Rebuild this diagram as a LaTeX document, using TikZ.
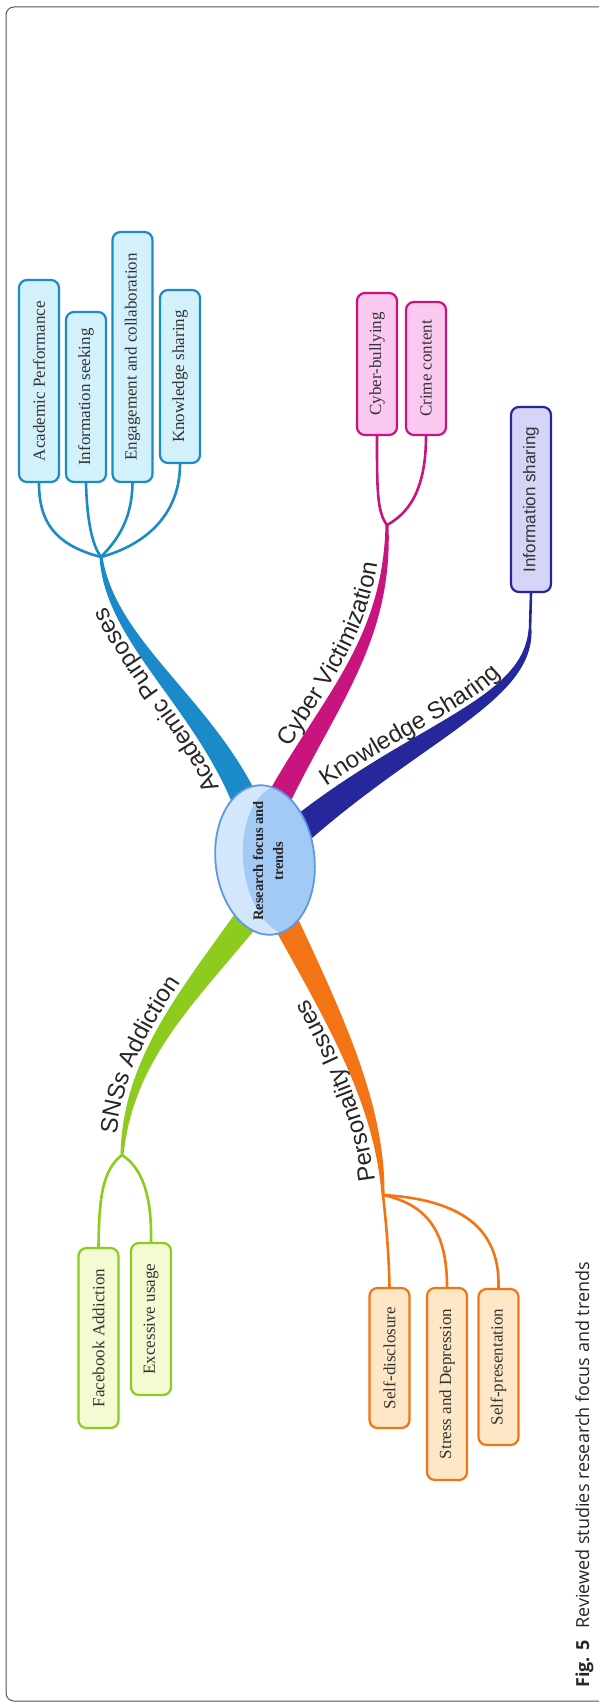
\documentclass[tikz,border=0pt]{standalone}
\usepackage{fontspec}
\setmainfont{Liberation Serif}
\newfontfamily\labelfont{Liberation Sans}
\newfontfamily\capfont{Open Sans}
\usetikzlibrary{calc,shapes.geometric,decorations.text}

\definecolor{acad}{HTML}{1A8BC8}
\definecolor{acadfill}{HTML}{D3F1FA}
\definecolor{cyber}{HTML}{C8157E}
\definecolor{cyberfill}{HTML}{FBC9F0}
\definecolor{know}{HTML}{25279B}
\definecolor{knowfill}{HTML}{D5D5F7}
\definecolor{sns}{HTML}{8DCB1E}
\definecolor{snsfill}{HTML}{F4FBD3}
\definecolor{pers}{HTML}{F27415}
\definecolor{persfill}{HTML}{FDE7C7}
\definecolor{ellborder}{HTML}{5F98E2}
\definecolor{ellfill}{HTML}{A3C9F5}
\definecolor{ellhi}{HTML}{D3E7FC}
\definecolor{framecol}{HTML}{555555}
\definecolor{labelcol}{HTML}{262626}

% tapered branch: #1 P0, #2 P1, #3 P2, #4 P3, #5 half width at P0, #6 half width at P3, #7 colour
\newcommand\taperbranch[7]{%
  \fill[#7] ($(#1)!#5!90:(#2)$)
     .. controls ($(#2)!{(2*#5+#6)/3}!-90:(#1)$) and ($(#3)!{(#5+2*#6)/3}!90:(#4)$) ..
     ($(#4)!#6!-90:(#3)$)
     -- ($(#4)!#6!90:(#3)$)
     .. controls ($(#3)!{(#5+2*#6)/3}!-90:(#4)$) and ($(#2)!{(2*#5+#6)/3}!90:(#1)$) ..
     ($(#1)!#5!-90:(#2)$) -- cycle;}

\tikzset{
  box/.style 2 args={draw=#1, fill=#2, rounded corners=8pt, line width=2.2pt,
    rotate=90, minimum height=40pt, inner sep=0pt, text=black!80,
    font=\fontsize{17}{20}\selectfont},
  sub/.style={draw=#1, line width=2.6pt, line cap=round},
  curvelabel/.style 2 args={decorate, decoration={text along path,
    text={|\labelfont\fontsize{24}{28}\selectfont\color{labelcol}|#1},
    text align={left, left indent=#2}}},
}

\begin{document}
\begin{tikzpicture}[x=1pt,y=-1pt]
\useasboundingbox (0,0) rectangle (598,1702);
\fill[white] (0,0) rectangle (598,1702);

% frame
\draw[framecol, line width=1pt, rounded corners=8pt] (650,7) -- (6,7) -- (6,1701) -- (650,1701);

% junction / attachment coordinates
\coordinate (JA) at (101,557);
\coordinate (JC) at (387,525);
\coordinate (JK) at (530,630);
\coordinate (JS) at (122,1155);
\coordinate (JP) at (383,1195);
\coordinate (EA) at (245,800);
\coordinate (EC) at (278,800);
\coordinate (EK) at (300,830);
\coordinate (ES) at (250,915);
\coordinate (EP) at (282,915);

% main tapered branches
\taperbranch{JA}{110,640}{200,700}{EA}{1.5pt}{13pt}{acad}
\taperbranch{JC}{388,640}{330,700}{EC}{1.5pt}{12pt}{cyber}
\taperbranch{JK}{528,700}{420,730}{EK}{1.5pt}{14pt}{know}
\taperbranch{JS}{128,1060}{185,1000}{ES}{1.5pt}{13pt}{sns}
\taperbranch{JP}{380,1100}{330,1010}{EP}{1.5pt}{13pt}{pers}

% boxes
\node[box={acad}{acadfill}, minimum width=202pt] (bAP) at (39,381) {Academic Performance};
\node[box={acad}{acadfill}, minimum width=170pt] (bIS) at (86,397) {Information seeking};
\node[box={acad}{acadfill}, minimum width=250pt] (bEC) at (132.5,357) {Engagement and collaboration};
\node[box={acad}{acadfill}, minimum width=173pt] (bKS) at (180,376.5) {Knowledge sharing};
\node[box={cyber}{cyberfill}, minimum width=142pt] (bCB) at (377,364) {Cyber-bullying};
\node[box={cyber}{cyberfill}, minimum width=133pt] (bCC) at (426,368.5) {Crime content};
\node[box={know}{knowfill}, minimum width=185pt, font=\labelfont\fontsize{17}{20}\selectfont] (bIN) at (531,499.5) {Information sharing};
\node[box={sns}{snsfill}, minimum width=180pt] (bFA) at (98.5,1338) {Facebook Addiction};
\node[box={sns}{snsfill}, minimum width=152pt] (bEU) at (151,1319) {Excessive usage};
\node[box={pers}{persfill}, minimum width=140pt] (bSD) at (389.5,1358) {Self-disclosure};
\node[box={pers}{persfill}, minimum width=192pt] (bSaD) at (447,1384) {Stress and Depression};
\node[box={pers}{persfill}, minimum width=156pt] (bSP) at (498.5,1367) {Self-presentation};

% sub connectors
\draw[sub=acad] (JA) .. controls (55,545) and (39,522) .. (bAP.west);
\draw[sub=acad] (JA) .. controls (92,545) and (87,520) .. (bIS.west);
\draw[sub=acad] (JA) .. controls (112,545) and (132,525) .. (bEC.west);
\draw[sub=acad] (JA) .. controls (145,545) and (180,515) .. (bKS.west);
\draw[sub=cyber] (JC) .. controls (377,512) and (377,490) .. (bCB.west);
\draw[sub=cyber] (JC) .. controls (405,515) and (426,495) .. (bCC.west);
\draw[sub=know] (JK) -- (bIN.west);
\draw[sub=sns] (JS) .. controls (102,1170) and (99,1200) .. (bFA.east);
\draw[sub=sns] (JS) .. controls (142,1168) and (152,1195) .. (bEU.east);
\draw[sub=pers] (JP) .. controls (387,1230) and (389,1260) .. (bSD.east);
\draw[sub=pers] (JP) .. controls (430,1205) and (447,1235) .. (bSaD.east);
\draw[sub=pers] (JP) .. controls (470,1200) and (500,1235) .. (bSP.east);

% central ellipse
\node[ellipse, rotate=6, fill=ellfill, minimum width=99pt, minimum height=150pt, inner sep=0pt] (root) at (265,860) {};
\begin{scope}[rotate around={6:(265,860)}]
  \clip (265,860) ellipse (49 and 74.5);
  \fill[ellhi, even odd rule] (265,860) ellipse (49 and 74.5) (288,863) ellipse (45 and 76);
\end{scope}
\draw[ellborder, line width=1.8pt, rotate around={6:(265,860)}] (265,860) ellipse (49.5 and 75);
\node[rotate=90, align=center, text=black!85, font=\bfseries\fontsize{14.5}{20}\selectfont] (rootlbl) at (268,861) {Research focus and\\trends};

% branch labels, set along the branches
\path[curvelabel={Academic Purposes}{22pt}] (228.6,807.4) .. controls (187,706) and (99.8,641) .. (94.5,557.7);
\path[curvelabel={Cyber Victimization}{52pt}] (262.9,792.2) .. controls (318,693.8) and (378,640) .. (380.5,525);
\path[curvelabel={Knowledge Sharing}{48pt}] (287.8,815.4) .. controls (410.5,718.6) and (517.3,699.7) .. (523.5,629.8);
\path[curvelabel={SNSs Addiction}{20pt}] (115.5,1154.6) .. controls (117.7,1059.4) and (173.7,991.4) .. (235.7,904.1);
\path[curvelabel={Personality Issues}{15pt}] (376.5,1195) .. controls (370,1100) and (317.5,1016) .. (266,923);

% caption
\node[rotate=90, anchor=base west, inner sep=0pt, text=black!85, font=\capfont\fontsize{18}{20}\selectfont] (cap) at (589,1688)
  {\textbf{Fig. 5}\hspace{12pt}Reviewed studies research focus and trends};
\end{tikzpicture}
\end{document}
